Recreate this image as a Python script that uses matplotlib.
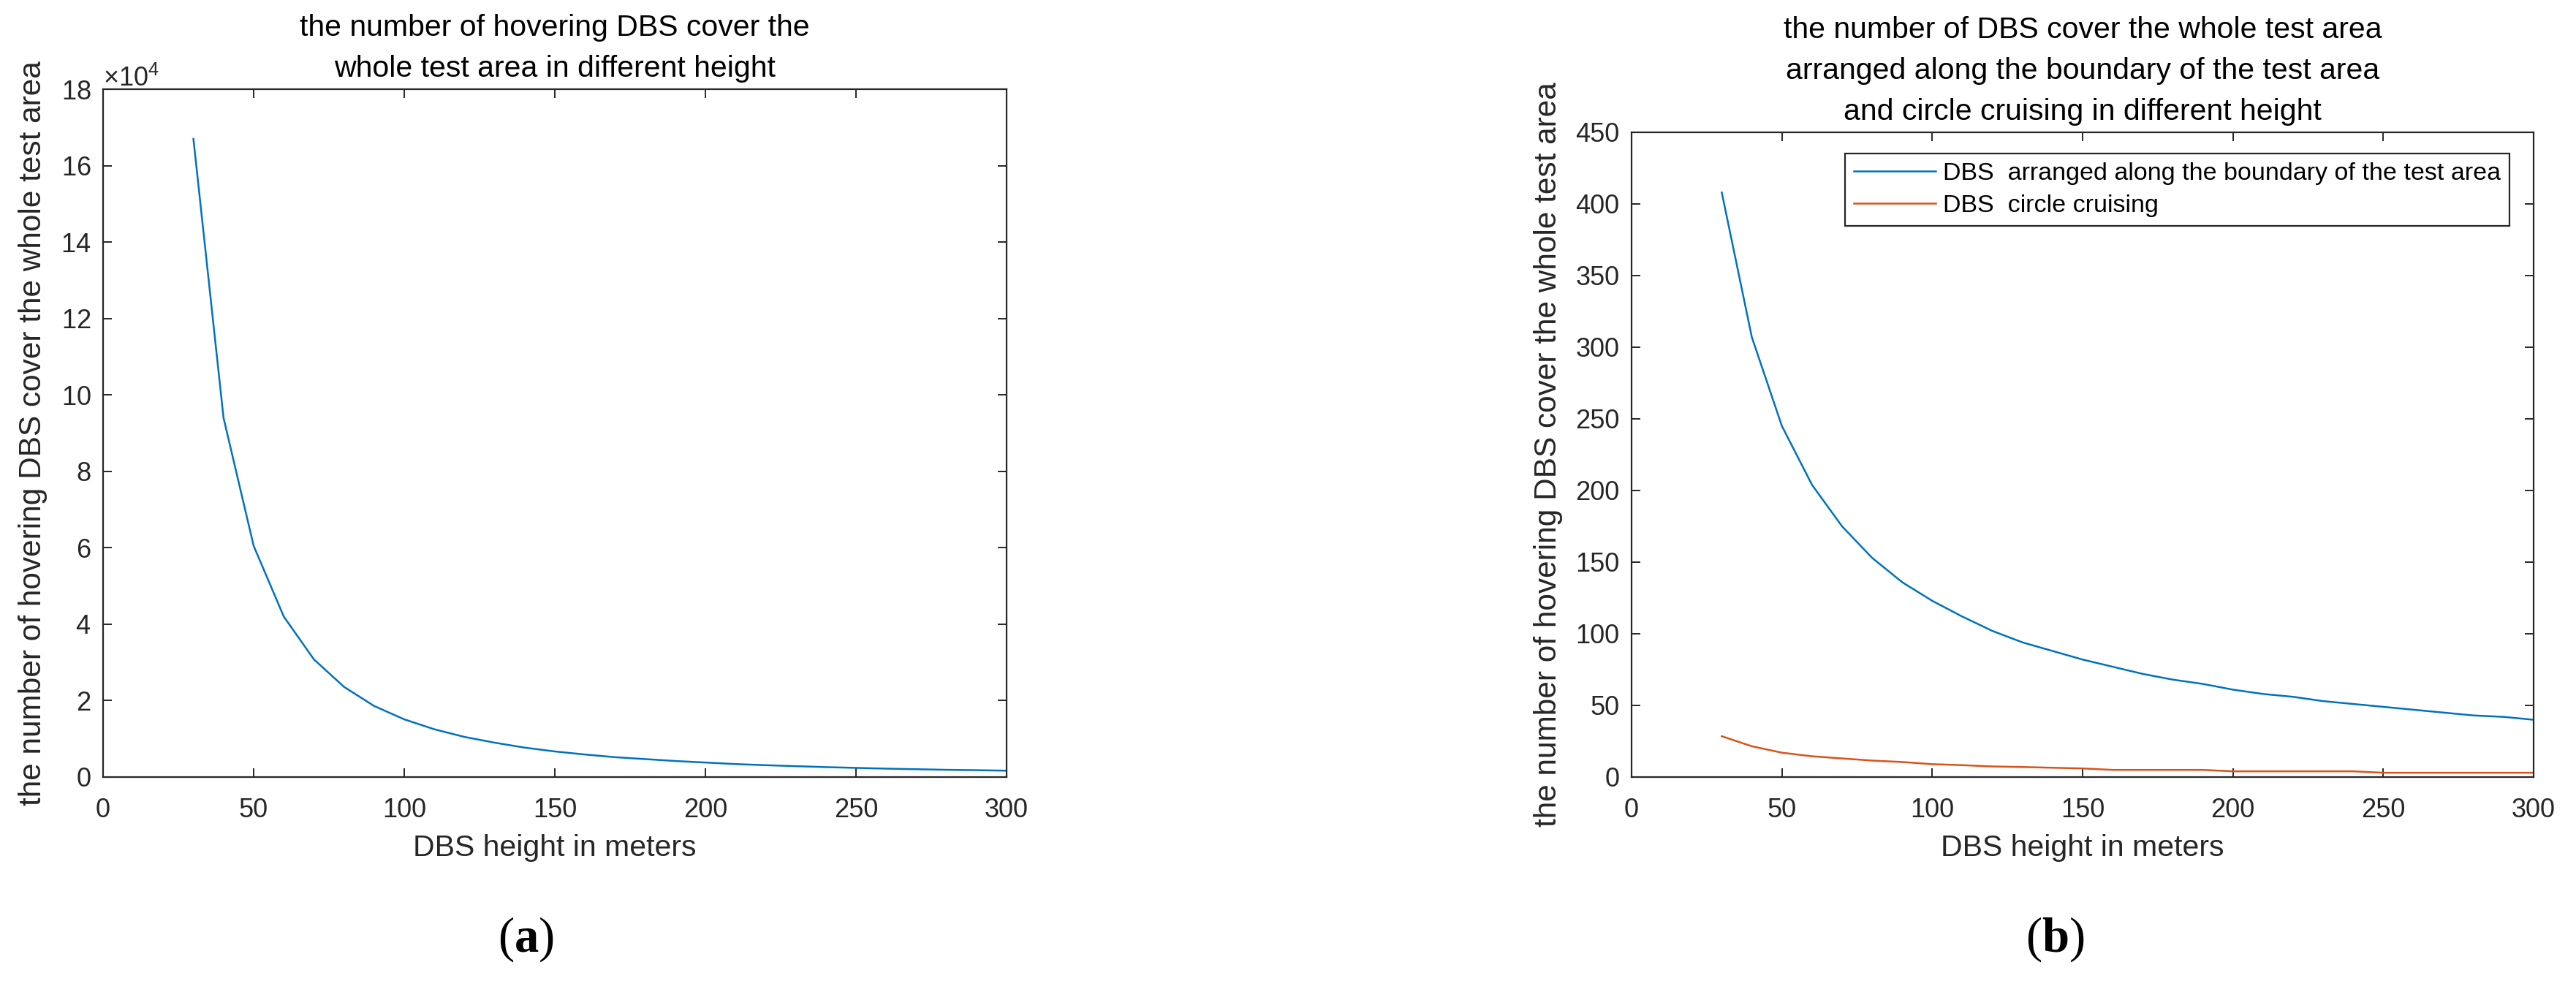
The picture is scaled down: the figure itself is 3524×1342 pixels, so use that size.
import numpy as np
import matplotlib
matplotlib.use("Agg")
import matplotlib.pyplot as plt

plt.rcParams['font.family'] = ['Liberation Sans', 'DejaVu Sans']
plt.rcParams['mathtext.fontset'] = 'custom'
plt.rcParams['mathtext.rm'] = 'Liberation Sans'
plt.rcParams['mathtext.sf'] = 'Liberation Serif'
plt.rcParams['mathtext.bf'] = 'Liberation Serif:bold'

# heights in meters
heights = [30, 40, 50, 60, 70, 80, 90, 100, 110, 120, 130, 140, 150, 160, 170,
           180, 190, 200, 210, 220, 230, 240, 250, 260, 270, 280, 290, 300]

# (a) hovering DBS count
hovering = [167000, 94000, 60500, 42000, 30800, 23600, 18600, 15100, 12500, 10500,
            9000, 7700, 6700, 5900, 5200, 4700, 4200, 3800, 3400, 3100,
            2850, 2600, 2400, 2200, 2050, 1900, 1800, 1670]

# (b) boundary arrangement vs circle cruising
boundary = [408, 307, 245, 204, 175, 153, 136, 123, 112, 102, 94, 88, 82, 77, 72,
            68, 65, 61, 58, 56, 53, 51, 49, 47, 45, 43, 42, 40]
cruising = [28.5, 21.5, 17, 14.5, 13, 11.5, 10.5, 9, 8.3, 7.4, 7, 6.5, 6, 5, 5,
            5, 5, 4, 4, 4, 4, 4, 3, 3, 3, 3, 3, 3]

blue = '#0072BD'
orange = '#D95319'
axcol = '#262626'

fig = plt.figure(figsize=(35.24, 13.42), dpi=100)
ax1 = fig.add_axes([0.04001, 0.20790, 0.35074, 0.70119])
ax2 = fig.add_axes([0.63337, 0.20790, 0.35017, 0.65723])


def style(ax, ylab_x):
    for s in ax.spines.values():
        s.set_color(axcol)
        s.set_linewidth(1.6)
    ax.tick_params(direction='in', top=True, right=True, length=8.6, width=1.4,
                   colors=axcol, labelsize=26)
    ax.tick_params(axis='x', pad=20)
    ax.tick_params(axis='y', pad=12)
    ax.set_xlim(0, 300)
    ax.set_xticks(np.arange(0, 301, 50))
    ax.set_xlabel('DBS height in meters', fontsize=29.5, color=axcol, va='center')
    ax.xaxis.set_label_coords(0.5, -0.103 if ax is ax1 else -0.110)
    ax.set_ylabel('the number of hovering DBS cover the whole test area',
                  fontsize=30.5, color=axcol, va='center')
    ax.yaxis.set_label_coords(ylab_x, 0.5)


ax1.plot(heights, hovering, color=blue, lw=1.8)
style(ax1, -0.0777)
ax1.set_ylim(0, 180000)
ax1.set_yticks(np.arange(0, 180001, 20000))
ax1.ticklabel_format(style='sci', axis='y', scilimits=(4, 4), useMathText=True)
ax1.yaxis.get_offset_text().set_fontsize(26)
ax1.yaxis.get_offset_text().set_color(axcol)
ax1.set_title('the number of hovering DBS cover the\nwhole test area in different height',
              fontsize=29.5, linespacing=1.6, pad=12)

ax2.plot(heights, boundary, color=blue, lw=1.8,
         label='DBS  arranged along the boundary of the test area')
ax2.plot(heights, cruising, color=orange, lw=1.8, label='DBS  circle cruising')
style(ax2, -0.0924)
ax2.set_ylim(0, 450)
ax2.set_yticks(np.arange(0, 451, 50))
ax2.set_title('the number of DBS cover the whole test area\n'
              'arranged along the boundary of the test area\n'
              'and circle cruising in different height',
              fontsize=29.5, linespacing=1.6, pad=12)
leg = ax2.legend(loc='upper right', bbox_to_anchor=(0.9733, 0.967), borderaxespad=0,
                 fontsize=24.5, fancybox=False, framealpha=1, edgecolor=axcol,
                 handlelength=3.3, handletextpad=0.3, labelspacing=0.38, borderpad=0.35)
leg.get_frame().set_linewidth(1.6)

fig.text(719 / 3524, 1 - 1285 / 1342, r'$\mathsf{(}\mathbf{a}\mathsf{)}$',
         fontsize=48, ha='center', va='center')
fig.text(2811 / 3524, 1 - 1285 / 1342, r'$\mathsf{(}\mathbf{b}\mathsf{)}$',
         fontsize=48, ha='center', va='center')

fig.savefig('out.png', dpi=100)
